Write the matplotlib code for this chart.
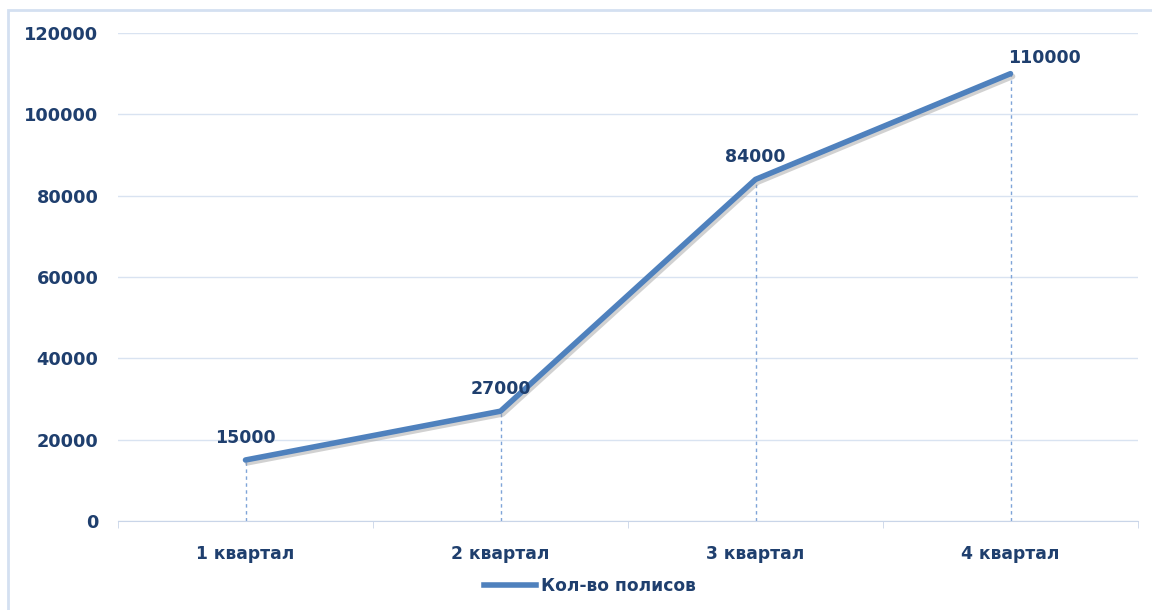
import matplotlib
matplotlib.use("Agg")
import matplotlib.pyplot as plt
import matplotlib.patheffects as pe
from matplotlib.patches import Rectangle

# данные
quarters = ['1 квартал', '2 квартал', '3 квартал', '4 квартал']
policies = [15000, 27000, 84000, 110000]
label_dx = [0, 0, 0, 34]   # сдвиг подписи по x, px (последняя сдвинута вправо)
label_dy = [13, 13, 13, 7]  # отступ подписи над точкой, px

line_col = '#4F81BD'
text_col = '#1F3F6E'
grid_col = '#D9E3F1'

fig = plt.figure(figsize=(11.52, 6.10), dpi=100)
fig.patches.append(Rectangle((8 / 1152, -0.1), 1.1, 1.1 - 10 / 610, transform=fig.transFigure,
                             fill=False, edgecolor='#D4E0F1', linewidth=2))

ax = fig.add_axes([118 / 1152, 1 - 521 / 610, 1020 / 1152, 488 / 610])
x = list(range(len(quarters)))

# вертикальные пунктирные линии к оси
for xi, yi in zip(x, policies):
    ax.plot([xi, xi], [0, yi], color='#7FA4D8', linestyle=(0, (2.5, 2.5)), linewidth=1, zorder=2)

ax.plot(x, policies, color=line_col, linewidth=4, solid_capstyle='round', zorder=3,
        path_effects=[pe.SimpleLineShadow(offset=(1.5, -2), shadow_color='#9a9a9a', alpha=0.45),
                      pe.Normal()])

for xi, yi, dx, dy in zip(x, policies, label_dx, label_dy):
    ax.annotate(str(yi), (xi, yi), xytext=(dx * 0.72, dy * 0.72), textcoords='offset points',
                ha='center', va='bottom', fontsize=12.5, fontweight='bold', color=text_col)

ax.set_xlim(-0.5, 3.5)
ax.set_ylim(0, 120000)
ax.set_yticks(range(0, 120001, 20000))
ax.set_yticklabels([str(v) for v in range(0, 120001, 20000)])
ax.set_xticks(x)
ax.set_xticklabels(quarters)
ax.set_xticks([-0.5, 0.5, 1.5, 2.5, 3.5], minor=True)
ax.tick_params(axis='x', which='major', length=0, pad=17, labelsize=12.3, labelcolor=text_col)
ax.tick_params(axis='x', which='minor', length=5, color='#C9D5E8', direction='out')
ax.tick_params(axis='y', length=0, pad=14, labelsize=12.8, labelcolor=text_col)
for lab in ax.get_xticklabels() + ax.get_yticklabels():
    lab.set_fontweight('bold')

ax.grid(axis='y', color=grid_col, linewidth=1)
ax.set_axisbelow(True)
for s in ['top', 'right', 'left']:
    ax.spines[s].set_visible(False)
ax.spines['bottom'].set_color('#C9D5E8')

leg = fig.legend([plt.Line2D([], [], color=line_col, linewidth=4)], ['Кол-во полисов'],
                 loc='center', bbox_to_anchor=(590 / 1152, 1 - 586 / 610), frameon=False,
                 handlelength=3.0, handletextpad=0.3, prop={'size': 12.3, 'weight': 'bold'})
for t in leg.get_texts():
    t.set_color(text_col)

fig.savefig('out.png', dpi=100)
